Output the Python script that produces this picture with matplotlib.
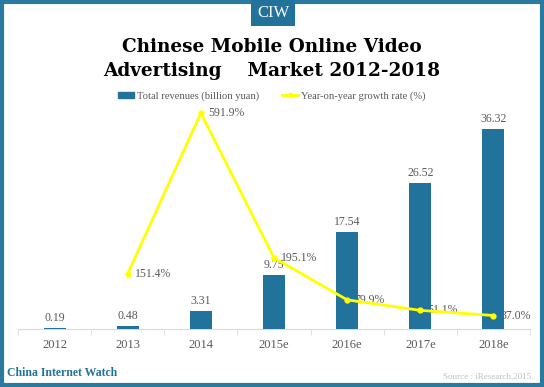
import matplotlib
matplotlib.use("Agg")
import matplotlib.pyplot as plt
from matplotlib.patches import Rectangle
from matplotlib.lines import Line2D

# data
years = ["2012", "2013", "2014", "2015e", "2016e", "2017e", "2018e"]
revenues = [0.19, 0.48, 3.31, 9.75, 17.54, 26.52, 36.32]
growth_years = [1, 2, 3, 4, 5, 6]          # growth starts in 2013
growth = [151.4, 591.9, 195.1, 79.9, 51.1, 37.0]

BLUE = "#21739c"
FRAME = "#2a7aa0"
GREY = "#595959"
SERIF = ["DejaVu Serif"]
LSERIF = ["Liberation Serif"]

fig = plt.figure(figsize=(5.44, 3.87), dpi=100)

# frame around the whole picture
fig.patches.append(Rectangle((0.003, 0.004), 0.994, 0.992, transform=fig.transFigure,
                             fill=False, ec=FRAME, lw=3.0, zorder=10))

# CIW tab at the top
fig.patches.append(Rectangle((251 / 544, 1 - 26 / 387), 44 / 544, 26 / 387,
                             transform=fig.transFigure, fc=BLUE, ec="none", zorder=11))
fig.text(273 / 544, 1 - 13 / 387, "CIW", color="white", fontsize=12,
         family=LSERIF, ha="center", va="center", zorder=12)

# title
fig.text(0.5, 1 - 47 / 387, "Chinese Mobile Online Video", fontsize=13.3,
         fontweight="bold", family=SERIF, ha="center", va="center")
fig.text(0.5, 1 - 71 / 387, "Advertising    Market 2012-2018", fontsize=13.3,
         fontweight="bold", family=SERIF, ha="center", va="center")

ax = fig.add_axes([18 / 544, 1 - 329 / 387, 512 / 544, 224 / 387])
ax2 = ax.twinx()
ax2.set_ylim(0, 614)
ax2.axis("off")

x = list(range(len(years)))
ax.bar(x, revenues, width=0.30, color=BLUE, zorder=3)
ax.set_xlim(-0.5, len(years) - 0.5)
ax.set_ylim(0, 40.7)
for xi, v in zip(x, revenues):
    ax.annotate(f"{v:.2f}", (xi, v), xytext=(0, 3), textcoords="offset points",
                ha="center", va="bottom", fontsize=8.5, color=GREY,
                family=LSERIF, zorder=1)
# growth labels sit beneath the bars
for xi, g in zip(growth_years, growth):
    ax.annotate(f"{g:.1f}%", (xi, g), xycoords=ax2.transData, xytext=(5, 0),
                textcoords="offset points", ha="left", va="center", fontsize=8.5,
                color=GREY, family=LSERIF, zorder=1)

for s in ["top", "left", "right"]:
    ax.spines[s].set_visible(False)
ax.spines["bottom"].set_color("#d9d9d9")
ax.set_yticks([])
ax.set_xticks(x)
ax.set_xticklabels(years, fontsize=9, color=GREY, family=LSERIF)
ax.tick_params(axis="x", which="major", length=0, pad=7)
ax.set_xticks([i - 0.5 for i in range(len(years) + 1)], minor=True)
ax.tick_params(axis="x", which="minor", length=4, color="#d9d9d9")

# line drawn on top of the bars
ax2.plot(growth_years, growth, color="#ffff00", lw=2, marker="o", ms=3.5, zorder=4)

# legend
handles = [Rectangle((0, 0), 1, 1, color=BLUE),
           Line2D([0], [0], color="#ffff00", lw=2, marker="o", ms=3)]
fig.legend(handles, ["Total revenues (billion yuan)", "Year-on-year growth rate (%)"],
           loc="center", bbox_to_anchor=(0.5, 1 - 96 / 387), ncol=2, frameon=False,
           prop={"family": "Liberation Serif", "size": 7.6}, labelcolor=GREY,
           handlelength=1.5, handleheight=0.5, columnspacing=2.2, handletextpad=0.3)

# footer
fig.text(7 / 544, 1 - 373 / 387, "China Internet Watch", fontsize=8.5, fontweight="bold",
         color=BLUE, family=LSERIF, ha="left", va="center")
fig.text(533 / 544, 1 - 377 / 387, "Source : iResearch,2015.", fontsize=6.5,
         color="#bfbfbf", family=LSERIF, ha="right", va="center")

fig.savefig("out.png", dpi=100)
